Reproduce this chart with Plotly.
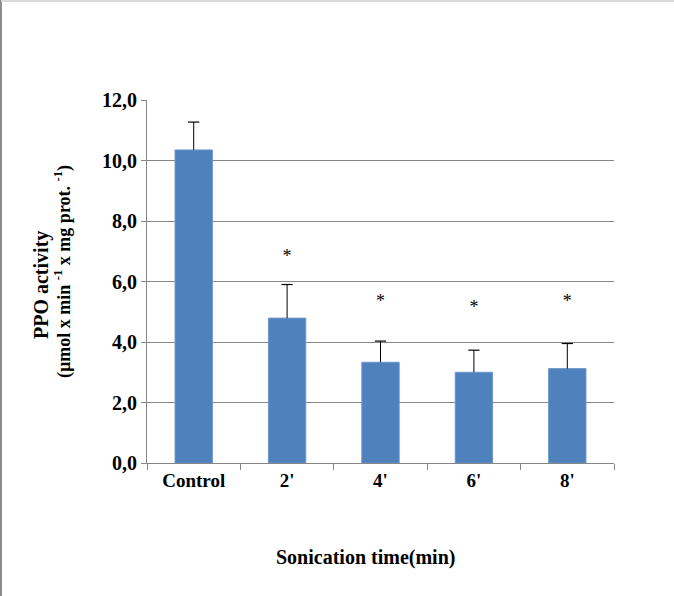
import plotly.graph_objects as go

categories = ["Control", "2'", "4'", "6'", "8'"]
activity = [10.35, 4.79, 3.33, 3.0, 3.12]
error_up = [0.92, 1.11, 0.70, 0.73, 0.83]
star_pos = [None, 6.8, 5.3, 5.1, 5.3]
star_text = ["", "*", "*", "*", "*"]

font_family = "Liberation Serif"
L, R, T, B = 147, 60, 100, 133
PW, PH = 674 - L - R, 596 - T - B

err_top = [a + e for a, e in zip(activity, error_up)]

fig = go.Figure()
fig.add_trace(go.Bar(
    x=categories, y=activity,
    marker=dict(color="#4F81BD", line=dict(color="#6C97CC", width=1)),
    width=0.4,
))
# error bars: vertical stem (no caps) + top cap marker
fig.add_trace(go.Scatter(
    x=categories, y=err_top, mode="markers",
    marker=dict(symbol="line-ew", size=8, color="black",
                line=dict(color="black", width=1.2)),
    error_y=dict(type="data", array=[0]*5, arrayminus=error_up, symmetric=False,
                 color="black", thickness=1, width=0),
    hoverinfo="skip",
))
fig.add_trace(go.Scatter(
    x=categories, y=star_pos, mode="text", text=star_text,
    textfont=dict(family=font_family, size=18, color="black"),
    textposition="middle center", hoverinfo="skip",
))

fig.update_layout(
    width=674, height=596,
    margin=dict(l=L, r=R, t=T, b=B),
    paper_bgcolor="white", plot_bgcolor="white",
    separators=",.",
    showlegend=False,
    font=dict(family=font_family, color="black"),
)
fig.update_xaxes(
    showline=True, linecolor="#868686", linewidth=1,
    ticks="outside", ticklen=6, tickcolor="#868686", tickson="boundaries",
    tickfont=dict(family=font_family, size=19, color="black", weight="bold"),
    showgrid=False,
)
fig.update_yaxes(
    range=[0, 12], dtick=2, tickformat=".1f",
    showline=True, linecolor="#868686", linewidth=1,
    ticks="outside", ticklen=5, tickcolor="#868686",
    showgrid=True, gridcolor="#868686", gridwidth=1,
    tickfont=dict(family=font_family, size=20, color="black", weight="bold"),
    zeroline=False,
)
fig.add_annotation(
    text="<b>PPO activity</b>",
    xref="paper", yref="paper", textangle=-90,
    x=(41 - L) / PW, y=(463 - 285) / PH, showarrow=False,
    xanchor="center", yanchor="middle",
    font=dict(family=font_family, size=20, color="black"),
)
fig.add_annotation(
    text="<b>(µmol x min <sup>-1</sup> x mg prot. <sup>-1</sup>)</b>",
    xref="paper", yref="paper", textangle=-90,
    x=(63 - L) / PW, y=(463 - 272) / PH, showarrow=False,
    xanchor="center", yanchor="middle",
    font=dict(family=font_family, size=18, color="black"),
)
fig.add_annotation(
    text="<b>Sonication time(min)</b>", xref="paper", yref="paper",
    x=(365 - L) / PW, y=(463 - 557) / PH, showarrow=False,
    xanchor="center", yanchor="middle",
    font=dict(family=font_family, size=20, color="black"),
)
# outer frame lines (left and top)
fig.add_shape(type="line", xref="paper", yref="paper",
              x0=(1 - L) / PW, x1=(1 - L) / PW, y0=-B / PH, y1=1 + T / PH,
              line=dict(color="#8c8c8c", width=2))
fig.add_shape(type="line", xref="paper", yref="paper",
              x0=(1 - L) / PW, x1=1 + R / PW, y0=1 + (T - 1) / PH, y1=1 + (T - 1) / PH,
              line=dict(color="#d9d9d9", width=2))

fig.write_html("out.html", config={"displayModeBar": False},
               post_script="document.body.style.margin='0px';")
